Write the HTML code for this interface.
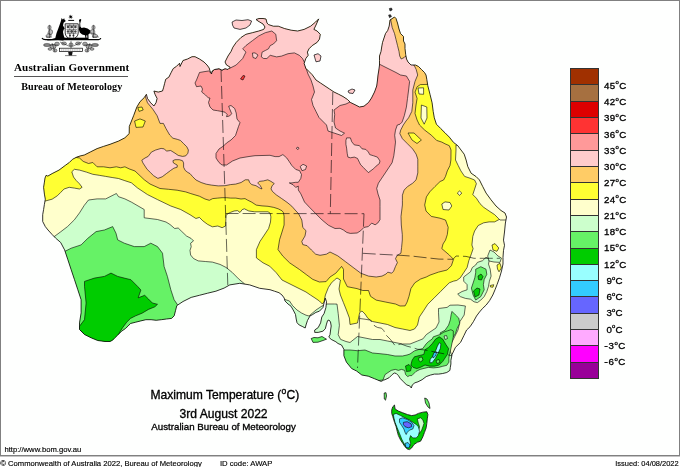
<!DOCTYPE html>
<html><head><meta charset="utf-8"><style>
html,body{margin:0;padding:0;background:#fff;}
#wrap{position:relative;width:680px;height:467px;overflow:hidden;background:#fff;}
.frame{position:absolute;left:0;top:0;width:678px;height:454px;border:1px solid #808080;background:#fefffe;box-shadow:0 1px 0 #c4c4c4;}
</style></head><body><div id="wrap">
<div class="frame"></div>
<svg width="680" height="467" viewBox="0 0 680 467" style="position:absolute;left:0;top:0"><defs><clipPath id="cm"><polygon points="394.5,17.0 396.0,18.5 397.5,23.0 399.0,29.0 400.5,33.5 403.5,36.5 403.5,41.0 405.0,44.0 405.0,48.5 405.7,54.5 406.5,59.0 408.0,62.0 411.0,65.0 415.5,65.0 418.5,66.5 421.5,69.5 424.5,72.5 426.0,75.0 426.8,79.3 427.8,85.7 430.0,94.3 432.1,102.8 433.2,111.4 434.3,117.8 436.4,124.2 440.7,128.5 445.0,132.8 449.3,137.1 453.5,142.4 457.8,145.7 461.0,150.0 464.2,154.2 466.1,160.0 467.8,166.6 471.1,173.2 476.1,176.6 479.4,179.9 482.7,186.5 486.1,193.1 491.0,199.8 496.0,206.0 501.0,210.5 505.0,213.0 506.5,217.0 505.4,223.0 504.5,232.0 503.5,240.1 504.5,245.3 503.5,250.4 503.0,257.3 503.0,264.0 501.5,271.0 499.5,277.8 497.0,284.7 495.0,289.8 492.8,295.0 489.6,300.6 486.2,305.0 482.5,308.5 479.5,312.0 476.5,316.0 473.4,321.7 470.0,326.8 466.6,330.0 464.0,335.4 460.6,342.3 455.4,347.4 452.1,354.4 450.9,360.3 450.9,364.0 450.3,367.4 449.9,370.4 446.8,372.5 442.7,373.5 438.6,374.1 434.4,374.1 430.3,375.1 426.2,376.6 422.1,379.7 418.0,381.8 414.9,382.8 412.3,384.9 411.3,388.0 409.7,385.9 406.6,384.9 403.5,381.8 400.4,378.7 398.4,375.6 396.3,373.5 394.3,373.0 392.2,374.6 389.1,377.7 385.0,379.7 383.7,380.1 381.1,381.4 374.7,378.8 368.3,376.2 361.8,375.0 356.7,371.1 351.6,368.5 346.4,362.1 343.9,355.7 343.9,349.3 341.5,345.0 338.0,343.5 335.9,341.8 331.2,339.4 328.8,337.1 330.0,334.7 330.6,330.0 331.2,326.0 330.5,322.0 329.0,320.0 327.6,320.6 326.5,324.1 325.3,328.8 322.9,331.2 318.2,332.4 314.7,332.4 314.7,330.0 318.2,327.6 320.6,322.9 321.8,317.0 324.1,313.5 325.9,307.6 326.5,301.8 325.3,298.2 324.1,302.9 322.9,307.6 319.4,311.2 315.9,312.4 312.4,314.7 310.0,315.9 307.5,320.4 306.0,325.0 305.2,328.0 302.2,326.4 299.2,325.0 297.0,322.7 296.2,319.0 295.5,314.5 293.2,310.0 291.0,306.2 288.0,304.0 285.0,301.0 284.2,298.0 282.0,295.0 279.0,292.7 274.5,291.2 270.0,289.7 259.7,288.3 249.7,284.9 239.8,283.3 229.8,284.9 224.1,288.1 215.9,291.2 207.6,293.2 199.4,295.3 191.2,297.4 183.0,301.5 176.8,305.6 175.5,310.7 174.2,315.8 171.6,318.4 166.5,319.0 161.3,319.7 156.2,320.3 151.1,319.7 145.9,319.7 140.8,320.9 135.7,322.2 130.5,323.5 128.0,326.1 125.4,328.6 121.6,331.2 117.7,335.1 115.1,337.6 112.6,340.2 110.0,341.5 105.0,341.5 97.7,340.5 91.1,337.8 84.5,334.5 79.5,329.5 79.5,322.9 81.1,312.9 81.1,299.7 77.8,289.7 74.5,279.7 71.2,269.8 67.9,259.8 64.6,249.9 60.7,242.5 55.5,238.0 52.1,234.5 48.0,230.0 45.3,226.6 42.7,221.5 42.7,214.7 43.6,209.5 44.4,204.4 45.3,199.2 44.4,194.1 43.6,187.3 44.4,182.1 45.0,178.0 46.1,175.3 47.8,176.1 52.1,173.6 59.0,170.1 65.8,165.0 69.3,162.5 72.5,159.3 76.8,157.1 80.0,156.0 84.3,155.0 90.7,151.8 97.1,148.6 103.5,146.4 110.0,144.3 118.5,141.1 124.9,137.8 129.2,133.6 129.3,126.4 133.6,115.7 136.8,107.1 140.0,101.7 144.3,97.5 146.4,94.3 147.5,98.5 150.7,102.8 153.9,106.0 156.0,102.8 157.1,98.5 155.0,94.3 153.9,91.0 158.2,92.1 162.5,91.0 163.5,87.8 164.6,83.5 165.7,79.3 168.9,77.1 171.0,72.8 173.2,68.6 176.4,66.4 179.6,63.2 180.0,66.5 183.0,60.5 187.5,59.0 192.0,56.7 195.0,56.7 199.5,59.0 204.0,62.0 207.0,65.0 209.2,68.0 210.0,71.0 211.5,74.0 212.2,71.0 214.5,69.5 219.0,68.7 222.0,70.2 225.0,68.7 228.0,69.5 230.2,67.2 226.5,65.0 225.0,62.0 228.0,56.0 231.0,51.5 232.9,47.2 236.2,42.4 241.0,37.5 245.9,34.3 252.4,32.7 258.8,31.0 263.7,29.4 265.0,27.0 263.0,24.0 258.0,21.0 256.0,19.5 259.0,18.5 263.0,18.5 266.0,19.0 267.0,23.0 268.5,24.6 273.4,26.2 278.3,26.2 284.7,28.6 291.2,30.2 297.7,31.0 304.1,29.4 310.6,26.2 315.5,22.1 318.7,18.9 316.0,25.0 313.9,29.4 317.1,31.0 320.3,34.3 319.5,39.1 317.1,42.4 312.2,45.6 309.0,48.8 307.4,52.1 308.2,55.3 305.8,58.5 304.1,63.4 305.8,68.3 309.0,71.5 312.2,74.7 316.0,80.0 320.5,83.0 325.0,86.0 329.5,89.0 334.0,92.0 338.5,94.2 343.0,96.5 347.5,99.5 350.5,102.5 355.0,104.7 359.5,107.0 364.0,106.2 368.5,102.5 371.5,98.0 374.5,92.0 376.7,86.0 377.5,80.0 378.0,75.0 378.7,71.0 379.5,65.0 379.5,60.5 379.5,56.0 381.0,51.5 381.7,47.0 382.5,42.5 384.0,38.0 385.5,33.5 387.7,30.5 389.2,26.0 390.0,20.0"/></clipPath><clipPath id="ct"><polygon points="391.7,410.0 392.8,406.7 394.5,405.0 395.0,408.9 398.4,411.1 402.8,412.8 407.3,414.5 411.7,415.6 415.1,415.0 418.4,413.4 422.9,412.2 426.8,411.7 427.9,414.5 427.3,418.9 426.8,423.4 426.2,427.8 424.5,432.3 422.9,436.7 420.6,441.2 417.3,442.3 414.0,444.5 411.7,447.9 409.5,449.6 407.3,449.0 405.0,446.8 402.8,443.4 400.6,440.1 398.4,435.6 397.2,431.2 396.1,426.7 394.5,422.3 392.8,416.7 391.7,413.4"/></clipPath></defs><polygon points="394.5,17.0 396.0,18.5 397.5,23.0 399.0,29.0 400.5,33.5 403.5,36.5 403.5,41.0 405.0,44.0 405.0,48.5 405.7,54.5 406.5,59.0 408.0,62.0 411.0,65.0 415.5,65.0 418.5,66.5 421.5,69.5 424.5,72.5 426.0,75.0 426.8,79.3 427.8,85.7 430.0,94.3 432.1,102.8 433.2,111.4 434.3,117.8 436.4,124.2 440.7,128.5 445.0,132.8 449.3,137.1 453.5,142.4 457.8,145.7 461.0,150.0 464.2,154.2 466.1,160.0 467.8,166.6 471.1,173.2 476.1,176.6 479.4,179.9 482.7,186.5 486.1,193.1 491.0,199.8 496.0,206.0 501.0,210.5 505.0,213.0 506.5,217.0 505.4,223.0 504.5,232.0 503.5,240.1 504.5,245.3 503.5,250.4 503.0,257.3 503.0,264.0 501.5,271.0 499.5,277.8 497.0,284.7 495.0,289.8 492.8,295.0 489.6,300.6 486.2,305.0 482.5,308.5 479.5,312.0 476.5,316.0 473.4,321.7 470.0,326.8 466.6,330.0 464.0,335.4 460.6,342.3 455.4,347.4 452.1,354.4 450.9,360.3 450.9,364.0 450.3,367.4 449.9,370.4 446.8,372.5 442.7,373.5 438.6,374.1 434.4,374.1 430.3,375.1 426.2,376.6 422.1,379.7 418.0,381.8 414.9,382.8 412.3,384.9 411.3,388.0 409.7,385.9 406.6,384.9 403.5,381.8 400.4,378.7 398.4,375.6 396.3,373.5 394.3,373.0 392.2,374.6 389.1,377.7 385.0,379.7 383.7,380.1 381.1,381.4 374.7,378.8 368.3,376.2 361.8,375.0 356.7,371.1 351.6,368.5 346.4,362.1 343.9,355.7 343.9,349.3 341.5,345.0 338.0,343.5 335.9,341.8 331.2,339.4 328.8,337.1 330.0,334.7 330.6,330.0 331.2,326.0 330.5,322.0 329.0,320.0 327.6,320.6 326.5,324.1 325.3,328.8 322.9,331.2 318.2,332.4 314.7,332.4 314.7,330.0 318.2,327.6 320.6,322.9 321.8,317.0 324.1,313.5 325.9,307.6 326.5,301.8 325.3,298.2 324.1,302.9 322.9,307.6 319.4,311.2 315.9,312.4 312.4,314.7 310.0,315.9 307.5,320.4 306.0,325.0 305.2,328.0 302.2,326.4 299.2,325.0 297.0,322.7 296.2,319.0 295.5,314.5 293.2,310.0 291.0,306.2 288.0,304.0 285.0,301.0 284.2,298.0 282.0,295.0 279.0,292.7 274.5,291.2 270.0,289.7 259.7,288.3 249.7,284.9 239.8,283.3 229.8,284.9 224.1,288.1 215.9,291.2 207.6,293.2 199.4,295.3 191.2,297.4 183.0,301.5 176.8,305.6 175.5,310.7 174.2,315.8 171.6,318.4 166.5,319.0 161.3,319.7 156.2,320.3 151.1,319.7 145.9,319.7 140.8,320.9 135.7,322.2 130.5,323.5 128.0,326.1 125.4,328.6 121.6,331.2 117.7,335.1 115.1,337.6 112.6,340.2 110.0,341.5 105.0,341.5 97.7,340.5 91.1,337.8 84.5,334.5 79.5,329.5 79.5,322.9 81.1,312.9 81.1,299.7 77.8,289.7 74.5,279.7 71.2,269.8 67.9,259.8 64.6,249.9 60.7,242.5 55.5,238.0 52.1,234.5 48.0,230.0 45.3,226.6 42.7,221.5 42.7,214.7 43.6,209.5 44.4,204.4 45.3,199.2 44.4,194.1 43.6,187.3 44.4,182.1 45.0,178.0 46.1,175.3 47.8,176.1 52.1,173.6 59.0,170.1 65.8,165.0 69.3,162.5 72.5,159.3 76.8,157.1 80.0,156.0 84.3,155.0 90.7,151.8 97.1,148.6 103.5,146.4 110.0,144.3 118.5,141.1 124.9,137.8 129.2,133.6 129.3,126.4 133.6,115.7 136.8,107.1 140.0,101.7 144.3,97.5 146.4,94.3 147.5,98.5 150.7,102.8 153.9,106.0 156.0,102.8 157.1,98.5 155.0,94.3 153.9,91.0 158.2,92.1 162.5,91.0 163.5,87.8 164.6,83.5 165.7,79.3 168.9,77.1 171.0,72.8 173.2,68.6 176.4,66.4 179.6,63.2 180.0,66.5 183.0,60.5 187.5,59.0 192.0,56.7 195.0,56.7 199.5,59.0 204.0,62.0 207.0,65.0 209.2,68.0 210.0,71.0 211.5,74.0 212.2,71.0 214.5,69.5 219.0,68.7 222.0,70.2 225.0,68.7 228.0,69.5 230.2,67.2 226.5,65.0 225.0,62.0 228.0,56.0 231.0,51.5 232.9,47.2 236.2,42.4 241.0,37.5 245.9,34.3 252.4,32.7 258.8,31.0 263.7,29.4 265.0,27.0 263.0,24.0 258.0,21.0 256.0,19.5 259.0,18.5 263.0,18.5 266.0,19.0 267.0,23.0 268.5,24.6 273.4,26.2 278.3,26.2 284.7,28.6 291.2,30.2 297.7,31.0 304.1,29.4 310.6,26.2 315.5,22.1 318.7,18.9 316.0,25.0 313.9,29.4 317.1,31.0 320.3,34.3 319.5,39.1 317.1,42.4 312.2,45.6 309.0,48.8 307.4,52.1 308.2,55.3 305.8,58.5 304.1,63.4 305.8,68.3 309.0,71.5 312.2,74.7 316.0,80.0 320.5,83.0 325.0,86.0 329.5,89.0 334.0,92.0 338.5,94.2 343.0,96.5 347.5,99.5 350.5,102.5 355.0,104.7 359.5,107.0 364.0,106.2 368.5,102.5 371.5,98.0 374.5,92.0 376.7,86.0 377.5,80.0 378.0,75.0 378.7,71.0 379.5,65.0 379.5,60.5 379.5,56.0 381.0,51.5 381.7,47.0 382.5,42.5 384.0,38.0 385.5,33.5 387.7,30.5 389.2,26.0 390.0,20.0" fill="#ffffcc" stroke="none" stroke-width="0.6" /><g clip-path="url(#cm)" stroke="#333" stroke-width="0.6" stroke-linejoin="round"><polygon points="30.0,240.0 53.8,236.9 60.7,231.8 67.5,226.6 74.4,219.8 79.5,212.9 84.3,205.3 88.5,200.0 97.1,198.9 105.7,198.9 114.2,194.6 116.4,193.5 118.5,196.7 124.9,198.9 131.4,202.1 135.0,204.2 144.2,209.5 144.2,217.8 157.5,219.5 166.0,222.0 170.0,224.5 174.7,228.5 178.2,228.0 181.8,231.5 186.5,236.0 191.2,238.5 193.5,240.9 190.6,243.2 191.2,246.8 190.0,250.3 190.6,255.0 193.5,258.5 198.2,260.9 205.3,261.5 212.4,262.1 220.0,264.4 226.2,267.5 232.4,272.6 238.5,278.8 244.7,284.0 250.0,300.0 30.0,360.0" fill="#ccffcc" stroke="#000" stroke-width="0.6" /><polygon points="60.0,251.5 64.6,251.5 71.2,248.2 81.1,244.9 87.8,238.3 96.1,231.6 104.4,230.0 112.7,226.6 116.0,233.3 117.7,239.9 124.3,243.2 134.3,246.6 144.2,246.6 150.8,243.2 157.5,246.6 162.5,253.2 164.1,266.5 167.4,276.4 170.8,289.7 174.1,299.7 177.4,304.6 180.0,320.0 60.0,360.0" fill="#66f266" stroke="#000" stroke-width="0.6" /><polygon points="84.5,281.4 94.4,278.1 104.4,276.4 111.0,273.1 117.7,276.4 124.3,278.1 130.9,279.7 137.6,286.4 140.9,290.0 138.2,297.8 144.7,295.3 148.5,299.1 152.4,303.0 157.5,304.3 154.9,306.8 148.5,309.4 142.1,313.2 135.7,315.8 130.5,318.4 126.7,322.2 122.8,327.4 120.3,331.2 117.7,336.3 115.1,340.2 108.0,344.0 97.7,344.0 87.8,337.8 79.5,329.5 79.5,326.2 84.5,319.6 86.1,303.0 84.5,286.4" fill="#00cc00" stroke="#000" stroke-width="0.6" /><polygon points="280.0,303.0 285.0,299.5 289.5,301.0 292.5,305.5 297.0,310.0 301.5,313.0 306.0,315.2 309.0,316.0 316.0,310.0 322.0,306.0 327.0,304.0 334.4,304.0 337.0,304.1 338.2,313.5 339.4,325.3 338.2,334.7 340.6,339.4 346.0,341.5 350.0,342.5 357.5,336.5 365.0,338.0 372.5,339.5 380.0,339.5 387.5,341.0 395.0,342.5 402.5,344.0 410.0,344.0 417.5,341.0 422.9,338.9 426.3,334.6 430.0,332.0 436.0,328.0 439.0,322.0 438.5,312.8 438.5,308.5 447.1,307.4 450.0,305.2 458.0,305.0 465.4,306.0 464.2,315.0 460.0,321.4 458.0,330.0 455.0,336.0 452.0,342.0 449.0,348.0 452.0,356.0 470.0,360.0 470.0,420.0 280.0,420.0" fill="#ccffcc" stroke="#000" stroke-width="0.6" /><polygon points="452.0,311.4 455.4,314.8 458.8,318.2 459.7,323.4 457.1,328.5 455.4,333.7 452.0,338.8 446.8,341.0 441.7,337.0 440.0,333.0 445.1,330.2 448.6,325.1 450.3,319.9 451.1,314.8" fill="#66f266" stroke="#000" stroke-width="0.6" /><polygon points="343.3,350.0 350.0,350.0 357.5,350.7 365.0,350.0 372.5,353.0 380.0,353.7 387.5,354.5 395.0,356.0 402.5,356.0 407.0,355.0 410.0,354.0 414.4,350.9 418.0,349.7 422.7,348.6 426.2,343.8 428.6,341.5 432.1,339.1 433.3,336.8 436.8,335.6 440.3,334.4 443.9,332.1 447.4,330.9 450.9,329.7 453.3,330.9 453.3,336.8 452.1,342.7 450.9,348.6 449.4,355.0 448.9,358.1 448.9,362.2 446.8,365.3 442.7,366.3 438.6,367.4 433.4,367.9 428.3,367.4 424.1,368.4 420.0,369.4 415.9,371.5 411.8,375.6 409.7,375.6 407.7,376.6 405.6,374.6 404.6,370.4 401.5,369.4 398.4,370.4 395.3,369.4 391.2,370.4 388.1,372.5 385.0,374.6 383.0,380.0 340.0,385.0" fill="#66f266" stroke="#000" stroke-width="0.6" /><polygon points="412.1,360.3 414.4,356.8 419.1,355.6 423.8,354.4 425.0,349.7 428.6,347.4 432.1,343.8 435.6,339.1 439.2,336.8 442.7,339.1 446.2,345.0 448.6,348.6 447.4,354.4 445.0,358.0 442.7,361.5 439.2,365.0 434.4,366.2 429.7,366.2 425.0,365.0 420.3,367.4 416.8,368.6 413.2,367.4 410.9,365.0" fill="#00cc00" stroke="#000" stroke-width="0.6" /><polygon points="405.5,366.0 409.0,364.5 411.5,367.0 410.5,371.0 406.5,371.5" fill="#00cc00" stroke="#000" stroke-width="0.6" /><polygon points="419.0,357.5 422.0,357.0 423.0,360.0 420.5,362.0 418.5,360.0" fill="#66f266" stroke="#000" stroke-width="0.6" /><polygon points="436.0,360.5 439.0,359.5 440.0,362.5 437.0,363.5" fill="#66f266" stroke="#000" stroke-width="0.6" /><polygon points="444.0,336.0 446.5,335.5 447.5,338.5 445.0,339.5" fill="#ccffcc" stroke="#000" stroke-width="0.6" /><polygon points="439.2,342.7 440.9,343.8 440.3,348.6 438.0,353.3 435.6,358.0 432.1,362.7 429.7,362.7 430.3,359.2 433.3,355.6 435.6,350.9 437.4,346.2" fill="#99ffff" stroke="#000" stroke-width="0.6" /><polygon points="434.0,352.5 436.8,352.0 435.5,356.0 433.0,358.0 432.7,356.0" fill="#33ccff" stroke="#000" stroke-width="0.6" /><polygon points="477.4,262.4 482.5,260.7 486.0,257.3 489.4,259.0 488.5,264.1 490.2,269.2 491.1,276.1 489.4,281.2 488.5,286.4 486.8,291.5 484.2,296.6 480.8,300.1 477.4,302.6 474.0,301.8 470.5,299.2 465.4,298.4 460.3,296.6 457.7,294.1 462.0,291.5 467.1,289.8 467.1,284.7 463.7,281.2 463.7,277.0 467.1,274.4 470.5,271.8 472.3,267.5 475.7,265.0" fill="#ccffcc" stroke="#000" stroke-width="0.6" /><polygon points="487.7,256.0 490.0,250.0 494.0,252.0 498.0,256.0 501.4,258.0 500.0,262.4 494.0,262.0 489.0,261.0" fill="#ccffcc" stroke="#000" stroke-width="0.6" /><polygon points="475.7,269.2 480.8,266.7 486.0,269.2 486.8,274.4 484.2,279.5 483.4,284.7 484.2,289.8 480.8,296.6 475.7,300.1 473.1,295.0 471.4,288.1 473.1,283.0 474.8,277.8 475.7,272.7" fill="#66f266" stroke="#000" stroke-width="0.6" /><polygon points="478.0,276.0 481.0,274.0 483.0,276.5 481.5,280.0 478.5,279.5" fill="#00cc00" stroke="#000" stroke-width="0.6" /><polygon points="473.5,291.0 477.0,288.0 480.0,289.0 479.0,295.0 475.0,297.0" fill="#00cc00" stroke="#000" stroke-width="0.6" /><polygon points="492.0,245.0 495.0,243.6 498.8,248.0 497.0,251.3 493.0,250.0" fill="#ffff33" stroke="#000" stroke-width="0.6" /><polygon points="497.0,265.0 500.0,263.3 501.4,268.0 499.0,271.8 497.5,269.0" fill="#ffff33" stroke="#000" stroke-width="0.6" /><polygon points="490.2,285.5 493.7,284.7 493.0,287.2 490.5,287.0" fill="#ffff33" stroke="#000" stroke-width="0.6" /><polygon points="30.0,150.0 30.0,201.0 45.3,201.0 52.1,199.2 57.3,195.8 60.7,192.4 64.1,189.0 69.2,187.3 74.4,188.1 79.5,189.0 82.1,187.3 79.5,183.8 76.1,180.4 73.5,177.0 71.8,171.8 74.4,169.3 79.5,170.1 86.4,172.1 92.8,174.3 99.2,175.3 105.7,176.4 112.1,177.5 118.5,178.5 124.9,180.7 131.4,182.8 137.6,188.0 147.5,194.6 157.5,199.6 170.8,206.0 180.7,209.5 190.0,214.7 195.9,218.5 199.4,217.4 202.9,220.9 207.6,224.4 212.4,226.8 217.8,226.0 222.1,227.7 225.6,226.0 226.0,215.7 227.3,214.0 230.7,212.3 234.1,211.0 237.5,210.6 240.0,212.5 242.2,209.6 244.4,208.8 248.8,211.0 254.7,211.8 262.0,211.8 268.0,211.8 270.1,213.2 270.9,216.9 270.5,222.0 268.6,228.5 264.3,235.0 260.0,241.4 256.4,249.6 256.4,257.9 263.0,262.8 269.7,266.2 276.3,272.8 282.0,280.0 288.0,283.0 294.0,286.0 300.0,289.0 306.0,292.0 310.4,295.0 315.0,298.0 319.4,301.0 322.4,304.0 324.0,302.0 325.4,295.0 328.4,287.5 331.4,283.0 334.4,280.0 337.0,278.0 340.4,280.0 339.0,289.0 340.4,295.0 343.4,302.5 346.4,310.0 349.4,318.0 350.0,324.5 357.5,323.0 359.7,312.5 362.0,311.0 365.0,314.0 368.0,318.5 372.5,321.5 380.0,323.0 387.5,324.5 395.0,327.5 402.5,329.0 410.0,330.5 414.5,329.0 417.5,325.0 419.3,317.1 423.6,310.7 427.8,304.2 434.3,297.8 440.7,291.4 449.3,282.8 453.4,281.2 456.8,280.4 460.3,277.8 463.7,272.7 467.1,267.5 468.8,260.7 471.4,253.8 473.1,248.7 471.9,245.0 472.8,236.4 474.6,231.0 478.2,225.5 483.7,222.8 489.1,221.9 494.6,221.9 498.2,220.0 520.0,210.0 520.0,0.0 30.0,0.0" fill="#ffff33" stroke="#000" stroke-width="0.6" /><polygon points="456.0,150.0 455.5,160.0 458.2,165.5 460.9,170.9 464.6,176.4 470.0,178.2 474.6,180.0 476.4,183.7 474.6,189.1 472.8,194.6 476.4,198.2 480.0,203.7 483.7,207.3 489.1,211.0 494.6,214.6 498.2,218.2 500.0,220.0 515.0,220.0 515.0,145.0 456.0,145.0" fill="#ffffcc" stroke="#000" stroke-width="0.6" /><polygon points="30.0,0.0 30.0,150.0 79.5,158.0 83.2,161.4 88.5,163.5 92.8,162.5 97.1,166.8 103.5,166.8 110.0,167.8 116.4,166.8 120.7,167.8 124.9,166.8 129.2,168.9 135.0,171.0 144.2,179.7 150.0,184.0 160.0,188.5 168.6,189.3 177.1,190.2 185.7,191.9 190.8,193.6 199.4,196.2 205.0,199.0 209.3,200.3 212.7,198.6 217.8,198.1 222.1,197.7 226.4,197.7 230.7,198.1 235.8,198.1 241.0,199.0 245.0,198.6 247.4,200.0 251.8,202.2 256.2,205.1 262.0,205.9 268.0,206.3 273.8,207.4 278.2,208.8 281.9,210.7 283.4,212.5 284.1,216.2 284.1,225.0 282.0,232.0 279.6,239.6 278.0,249.6 282.9,256.2 289.6,262.8 299.5,269.5 306.2,274.5 312.8,279.4 319.4,282.0 326.1,281.6 330.0,277.0 335.8,273.2 341.6,266.4 343.5,269.3 343.5,279.0 347.3,286.7 357.0,288.6 362.8,290.5 368.5,290.5 370.5,296.3 376.2,300.1 385.9,302.1 395.5,304.0 400.0,306.0 405.1,305.9 407.1,302.1 409.0,296.3 410.9,288.6 414.8,282.8 420.6,279.0 426.3,277.0 430.0,275.1 438.5,272.1 447.1,270.0 451.4,265.7 453.5,259.3 449.3,255.0 441.8,248.6 443.0,244.0 445.5,240.1 447.3,234.6 448.2,227.3 445.5,220.0 440.0,218.2 431.3,216.4 426.0,211.0 424.7,205.0 426.4,196.9 429.8,191.8 434.9,186.6 440.1,181.5 443.6,180.0 445.5,176.4 447.3,170.9 450.0,165.5 450.9,160.0 451.0,150.0 449.3,145.7 445.0,143.8 441.8,142.1 436.6,140.4 431.5,135.3 424.7,130.1 419.5,125.0 417.1,120.0 415.0,113.5 416.0,105.0 417.1,98.5 415.0,92.1 417.1,86.8 420.3,84.6 440.0,84.0 440.0,0.0" fill="#ffcc66" stroke="#000" stroke-width="0.6" /><polygon points="421.4,105.0 426.8,107.0 427.0,118.0 424.2,124.2 421.0,118.0" fill="#ffffcc" stroke="#000" stroke-width="0.6" /><polygon points="418.0,88.0 423.6,87.8 423.6,94.3 419.0,94.0" fill="#ffffcc" stroke="#000" stroke-width="0.6" /><polygon points="441.8,204.0 445.0,201.9 450.0,202.5 451.8,206.0 449.0,210.0 443.0,209.5" fill="#ffffcc" stroke="#000" stroke-width="0.6" /><polygon points="457.3,193.0 459.5,191.0 461.8,193.0 459.5,195.5" fill="#ffffcc" stroke="#000" stroke-width="0.6" /><polygon points="408.0,133.0 414.0,133.0 421.4,140.0 417.0,143.5 412.0,140.0" fill="#ffff33" stroke="#000" stroke-width="0.6" /><polygon points="137.8,107.5 142.0,107.0 143.2,110.0 139.0,111.4" fill="#ffff33" stroke="#000" stroke-width="0.6" /><polygon points="134.6,121.0 140.0,118.9 145.3,121.0 143.0,127.0 136.0,127.4" fill="#ffff33" stroke="#000" stroke-width="0.6" /><polygon points="130.0,0.0 140.0,90.0 145.3,96.4 147.5,102.8 152.8,109.2 157.1,115.7 160.0,123.4 163.4,123.4 166.0,128.6 169.7,135.0 172.9,138.2 177.2,139.3 180.4,140.4 183.6,143.6 186.8,146.8 188.4,150.0 187.9,153.2 185.7,155.9 182.5,156.4 178.2,155.4 175.0,153.2 170.7,150.5 166.4,151.1 164.3,148.9 161.1,148.4 155.7,150.0 151.4,152.1 148.2,156.4 145.0,158.0 141.8,160.2 142.9,162.9 145.0,166.1 147.1,169.3 150.4,172.5 153.6,175.7 157.9,178.4 162.2,176.8 166.4,173.6 170.7,170.4 173.9,168.2 177.2,167.2 177.2,165.0 175.0,163.9 173.4,162.9 172.9,160.7 175.0,159.7 179.3,159.7 182.5,160.7 183.6,162.9 183.6,167.2 185.2,170.4 187.9,172.5 190.0,173.6 192.5,176.5 196.0,180.0 201.1,182.5 206.2,184.2 211.4,185.1 218.2,185.9 225.0,185.7 230.4,184.6 235.7,184.1 241.1,182.5 245.3,179.8 248.6,179.8 249.6,182.5 251.8,184.6 256.0,185.7 260.3,188.4 262.0,188.9 260.3,185.7 257.7,183.0 259.3,181.4 263.5,180.9 267.8,179.8 271.0,181.4 274.3,183.6 272.1,185.7 271.0,188.9 272.5,191.5 276.2,194.8 281.6,198.5 287.0,202.3 291.8,206.2 296.0,211.0 298.5,213.6 301.8,220.0 302.8,227.5 306.0,230.7 305.0,236.0 301.8,241.4 302.8,244.6 307.1,245.7 311.4,250.0 315.7,254.2 320.0,255.3 326.4,254.2 330.0,252.0 337.7,255.8 345.4,261.6 353.1,267.4 360.8,273.2 368.5,276.1 376.2,277.0 382.0,276.1 385.9,274.1 387.8,272.2 391.7,273.2 393.6,271.2 395.5,266.4 397.4,262.6 395.5,258.7 397.2,255.4 400.9,253.2 401.6,247.4 402.3,240.0 402.3,234.6 401.3,225.0 401.0,216.4 402.4,205.0 402.4,200.3 402.4,195.2 404.1,190.1 407.5,186.6 412.7,183.2 416.1,179.8 417.8,172.9 417.8,166.1 417.8,159.2 416.1,154.1 412.7,149.0 407.5,143.8 402.4,138.7 399.8,133.6 400.7,130.1 403.3,125.0 406.0,121.0 408.6,117.8 411.8,111.4 412.8,102.8 412.8,90.0 415.0,81.4 417.7,75.0 416.2,69.5 414.0,65.0 411.0,64.0 408.0,60.0 405.7,56.0 404.2,57.5 401.2,59.0 399.7,56.0 399.0,51.5 397.5,45.5 396.0,39.5 394.5,33.5 392.2,27.5 390.7,20.0 392.0,10.0 392.0,0.0" fill="#ffcccc" stroke="#000" stroke-width="0.6" /><polygon points="199.5,72.5 204.0,71.7 208.5,71.0 211.0,73.0 214.5,69.5 219.0,68.7 222.0,70.2 225.0,68.7 229.7,68.3 236.2,65.0 242.7,58.5 245.9,52.1 242.7,48.8 245.9,45.6 252.4,40.7 258.8,35.9 265.3,32.7 271.8,31.0 275.8,34.3 276.6,40.7 273.4,44.0 270.2,45.6 268.5,48.8 265.3,50.5 262.1,52.1 261.3,56.9 263.7,58.5 266.9,58.5 270.2,55.3 276.6,56.9 281.5,56.1 288.0,53.7 294.4,52.9 299.3,55.3 302.5,58.5 305.0,63.4 306.0,68.0 308.0,74.0 311.0,80.0 313.0,86.0 314.5,92.0 311.5,99.5 313.0,105.5 316.0,111.5 319.0,117.5 323.5,122.0 326.5,125.0 328.0,131.0 332.5,132.5 337.0,134.0 341.5,135.5 344.5,133.2 340.0,131.0 335.5,128.0 334.0,122.0 334.7,114.5 334.0,110.0 340.0,105.5 346.0,104.0 349.0,102.5 355.0,100.0 370.0,90.0 376.0,70.0 379.5,64.2 384.0,66.5 390.0,69.5 396.0,72.5 400.5,75.0 406.4,76.0 409.6,81.4 408.6,90.0 407.5,98.5 406.4,107.1 404.3,115.7 402.1,122.1 400.0,124.2 397.3,125.0 395.5,130.1 394.7,135.3 395.5,142.1 394.7,149.0 393.8,155.8 392.1,162.7 388.7,167.8 385.3,172.9 381.8,178.1 378.4,183.2 376.7,188.4 378.0,194.0 380.0,200.0 380.0,206.4 380.0,219.7 377.7,223.1 375.1,224.8 371.7,223.1 368.3,226.6 364.0,227.4 360.6,230.8 357.1,233.0 350.3,233.4 346.9,232.5 343.4,230.0 340.0,228.3 335.0,228.5 328.5,225.3 322.1,220.0 315.7,213.6 309.3,207.1 304.5,202.0 300.8,193.8 298.3,190.0 298.3,186.1 295.7,187.4 293.1,184.8 289.3,182.9 291.9,182.9 295.7,182.3 298.3,182.3 300.8,178.4 301.5,174.6 299.6,170.7 295.7,169.4 291.9,165.6 289.3,161.7 286.7,157.9 282.9,154.6 279.0,156.6 275.1,156.6 270.0,155.3 255.0,155.7 249.0,156.5 240.0,158.0 232.5,161.0 226.5,165.0 222.0,165.0 219.0,162.5 216.0,158.0 216.0,153.5 219.0,149.0 223.5,146.0 226.5,143.0 231.0,140.0 235.5,135.5 237.0,131.0 238.5,126.5 240.0,122.7 237.0,119.0 236.2,113.0 234.7,108.5 231.0,105.5 228.7,106.2 229.5,108.5 231.7,113.7 229.5,116.0 226.5,116.7 227.2,114.5 225.0,112.2 222.0,111.5 217.5,110.7 213.0,110.0 210.0,107.0 208.5,102.5 210.0,98.0 208.5,98.0 205.5,95.0 201.7,92.0 202.5,89.0 201.0,86.0 196.5,86.7 195.0,83.0 196.5,80.0" fill="#ff9999" stroke="#000" stroke-width="0.6" /><polygon points="346.6,137.9 350.4,137.9 351.7,141.7 354.3,144.9 359.4,145.6 362.0,148.8 365.8,149.4 368.4,152.0 369.7,154.6 373.6,155.8 377.4,157.1 380.0,161.0 379.3,163.6 376.1,166.1 373.6,168.7 371.0,170.6 368.4,172.6 365.8,170.0 363.3,167.4 360.7,164.8 359.4,162.3 357.5,158.4 354.3,157.1 350.4,157.8 347.9,157.1 347.2,153.3 346.6,148.1 345.9,144.3 345.9,140.4" fill="#ffcccc" stroke="#000" stroke-width="0.6" /><polygon points="252.4,53.0 255.0,52.9 258.0,55.0 256.0,58.5 253.0,57.5" fill="#ffcccc" stroke="#000" stroke-width="0.6" /><polygon points="300.2,166.5 303.0,164.3 306.6,166.0 305.5,169.5 302.0,170.7" fill="#ffcccc" stroke="#000" stroke-width="0.6" /><polygon points="296.3,148.0 298.0,147.0 299.0,148.5 297.5,149.5" fill="#ffcccc" stroke="#000" stroke-width="0.6" /><polygon points="240.5,79.0 243.0,75.5 245.0,76.0 243.0,80.0" fill="#ff3333" stroke="#000" stroke-width="0.6" /></g><polyline points="221.0,69.0 225.6,213.5 227.8,285.0" fill="none" stroke="#000" stroke-width="0.6" stroke-dasharray="13,4" clip-path="url(#cm)"/><polyline points="225.6,213.5 364.0,213.7" fill="none" stroke="#000" stroke-width="0.6" stroke-dasharray="13,4" clip-path="url(#cm)"/><polyline points="332.8,92.0 330.3,213.5" fill="none" stroke="#000" stroke-width="0.6" stroke-dasharray="13,4" clip-path="url(#cm)"/><polyline points="364.0,213.7 357.5,368.0" fill="none" stroke="#000" stroke-width="0.6" stroke-dasharray="13,4" clip-path="url(#cm)"/><polyline points="362.7,253.3 380.0,254.3 402.0,255.4 413.0,256.2 425.0,257.6 439.0,259.1 453.0,259.3 456.0,256.0 466.0,256.4 474.0,258.3 500.0,258.3" fill="none" stroke="#000" stroke-width="0.6" stroke-dasharray="13,4" clip-path="url(#cm)"/><polyline points="359.6,318.5 365.0,319.2 369.5,320.0 372.5,322.2 374.7,326.0 377.7,327.5 381.5,328.2 383.7,330.5 386.0,335.0 390.5,339.5 395.0,345.5 401.0,344.0 407.0,346.2 413.0,347.7 417.5,349.2 425.0,350.0 435.0,352.0 445.0,354.0 452.0,356.0" fill="none" stroke="#000" stroke-width="0.6" stroke-dasharray="13,4" clip-path="url(#cm)"/><polygon points="394.5,17.0 396.0,18.5 397.5,23.0 399.0,29.0 400.5,33.5 403.5,36.5 403.5,41.0 405.0,44.0 405.0,48.5 405.7,54.5 406.5,59.0 408.0,62.0 411.0,65.0 415.5,65.0 418.5,66.5 421.5,69.5 424.5,72.5 426.0,75.0 426.8,79.3 427.8,85.7 430.0,94.3 432.1,102.8 433.2,111.4 434.3,117.8 436.4,124.2 440.7,128.5 445.0,132.8 449.3,137.1 453.5,142.4 457.8,145.7 461.0,150.0 464.2,154.2 466.1,160.0 467.8,166.6 471.1,173.2 476.1,176.6 479.4,179.9 482.7,186.5 486.1,193.1 491.0,199.8 496.0,206.0 501.0,210.5 505.0,213.0 506.5,217.0 505.4,223.0 504.5,232.0 503.5,240.1 504.5,245.3 503.5,250.4 503.0,257.3 503.0,264.0 501.5,271.0 499.5,277.8 497.0,284.7 495.0,289.8 492.8,295.0 489.6,300.6 486.2,305.0 482.5,308.5 479.5,312.0 476.5,316.0 473.4,321.7 470.0,326.8 466.6,330.0 464.0,335.4 460.6,342.3 455.4,347.4 452.1,354.4 450.9,360.3 450.9,364.0 450.3,367.4 449.9,370.4 446.8,372.5 442.7,373.5 438.6,374.1 434.4,374.1 430.3,375.1 426.2,376.6 422.1,379.7 418.0,381.8 414.9,382.8 412.3,384.9 411.3,388.0 409.7,385.9 406.6,384.9 403.5,381.8 400.4,378.7 398.4,375.6 396.3,373.5 394.3,373.0 392.2,374.6 389.1,377.7 385.0,379.7 383.7,380.1 381.1,381.4 374.7,378.8 368.3,376.2 361.8,375.0 356.7,371.1 351.6,368.5 346.4,362.1 343.9,355.7 343.9,349.3 341.5,345.0 338.0,343.5 335.9,341.8 331.2,339.4 328.8,337.1 330.0,334.7 330.6,330.0 331.2,326.0 330.5,322.0 329.0,320.0 327.6,320.6 326.5,324.1 325.3,328.8 322.9,331.2 318.2,332.4 314.7,332.4 314.7,330.0 318.2,327.6 320.6,322.9 321.8,317.0 324.1,313.5 325.9,307.6 326.5,301.8 325.3,298.2 324.1,302.9 322.9,307.6 319.4,311.2 315.9,312.4 312.4,314.7 310.0,315.9 307.5,320.4 306.0,325.0 305.2,328.0 302.2,326.4 299.2,325.0 297.0,322.7 296.2,319.0 295.5,314.5 293.2,310.0 291.0,306.2 288.0,304.0 285.0,301.0 284.2,298.0 282.0,295.0 279.0,292.7 274.5,291.2 270.0,289.7 259.7,288.3 249.7,284.9 239.8,283.3 229.8,284.9 224.1,288.1 215.9,291.2 207.6,293.2 199.4,295.3 191.2,297.4 183.0,301.5 176.8,305.6 175.5,310.7 174.2,315.8 171.6,318.4 166.5,319.0 161.3,319.7 156.2,320.3 151.1,319.7 145.9,319.7 140.8,320.9 135.7,322.2 130.5,323.5 128.0,326.1 125.4,328.6 121.6,331.2 117.7,335.1 115.1,337.6 112.6,340.2 110.0,341.5 105.0,341.5 97.7,340.5 91.1,337.8 84.5,334.5 79.5,329.5 79.5,322.9 81.1,312.9 81.1,299.7 77.8,289.7 74.5,279.7 71.2,269.8 67.9,259.8 64.6,249.9 60.7,242.5 55.5,238.0 52.1,234.5 48.0,230.0 45.3,226.6 42.7,221.5 42.7,214.7 43.6,209.5 44.4,204.4 45.3,199.2 44.4,194.1 43.6,187.3 44.4,182.1 45.0,178.0 46.1,175.3 47.8,176.1 52.1,173.6 59.0,170.1 65.8,165.0 69.3,162.5 72.5,159.3 76.8,157.1 80.0,156.0 84.3,155.0 90.7,151.8 97.1,148.6 103.5,146.4 110.0,144.3 118.5,141.1 124.9,137.8 129.2,133.6 129.3,126.4 133.6,115.7 136.8,107.1 140.0,101.7 144.3,97.5 146.4,94.3 147.5,98.5 150.7,102.8 153.9,106.0 156.0,102.8 157.1,98.5 155.0,94.3 153.9,91.0 158.2,92.1 162.5,91.0 163.5,87.8 164.6,83.5 165.7,79.3 168.9,77.1 171.0,72.8 173.2,68.6 176.4,66.4 179.6,63.2 180.0,66.5 183.0,60.5 187.5,59.0 192.0,56.7 195.0,56.7 199.5,59.0 204.0,62.0 207.0,65.0 209.2,68.0 210.0,71.0 211.5,74.0 212.2,71.0 214.5,69.5 219.0,68.7 222.0,70.2 225.0,68.7 228.0,69.5 230.2,67.2 226.5,65.0 225.0,62.0 228.0,56.0 231.0,51.5 232.9,47.2 236.2,42.4 241.0,37.5 245.9,34.3 252.4,32.7 258.8,31.0 263.7,29.4 265.0,27.0 263.0,24.0 258.0,21.0 256.0,19.5 259.0,18.5 263.0,18.5 266.0,19.0 267.0,23.0 268.5,24.6 273.4,26.2 278.3,26.2 284.7,28.6 291.2,30.2 297.7,31.0 304.1,29.4 310.6,26.2 315.5,22.1 318.7,18.9 316.0,25.0 313.9,29.4 317.1,31.0 320.3,34.3 319.5,39.1 317.1,42.4 312.2,45.6 309.0,48.8 307.4,52.1 308.2,55.3 305.8,58.5 304.1,63.4 305.8,68.3 309.0,71.5 312.2,74.7 316.0,80.0 320.5,83.0 325.0,86.0 329.5,89.0 334.0,92.0 338.5,94.2 343.0,96.5 347.5,99.5 350.5,102.5 355.0,104.7 359.5,107.0 364.0,106.2 368.5,102.5 371.5,98.0 374.5,92.0 376.7,86.0 377.5,80.0 378.0,75.0 378.7,71.0 379.5,65.0 379.5,60.5 379.5,56.0 381.0,51.5 381.7,47.0 382.5,42.5 384.0,38.0 385.5,33.5 387.7,30.5 389.2,26.0 390.0,20.0" fill="none" stroke="#000" stroke-width="0.8" /><polygon points="232.1,22.0 236.0,20.0 242.0,20.5 248.0,19.7 251.6,21.0 250.0,25.0 246.0,28.0 240.0,29.4 234.0,28.0 232.5,25.0" fill="#ffcccc" stroke="#000" stroke-width="0.7" /><polygon points="389.3,8.5 391.5,8.0 392.2,10.0 390.0,11.0" fill="#333" stroke="#000" stroke-width="0.5" /><polygon points="388.6,15.0 390.5,14.7 391.5,16.5 389.5,17.7" fill="#333" stroke="#000" stroke-width="0.5" /><polygon points="314.0,55.0 318.0,53.7 321.0,56.0 320.0,61.0 316.0,61.8" fill="#ffcccc" stroke="#000" stroke-width="0.7" /><polygon points="348.0,91.0 352.0,89.0 355.0,90.0 353.0,93.5 349.0,93.0" fill="#ffcccc" stroke="#000" stroke-width="0.7" /><polygon points="311.2,338.5 314.0,337.5 318.0,337.8 322.0,336.5 324.5,338.0 326.5,339.2 323.0,340.5 318.0,342.2 313.0,342.4" fill="#66f266" stroke="#000" stroke-width="0.7" /><polygon points="384.2,393.0 386.0,392.7 386.5,396.0 385.5,400.2 384.3,399.0" fill="#66f266" stroke="#000" stroke-width="0.7" /><polygon points="424.7,398.0 427.0,399.0 429.0,403.0 430.0,408.5 428.0,407.0 425.5,403.0" fill="#66f266" stroke="#000" stroke-width="0.7" /><g clip-path="url(#ct)" stroke="#333" stroke-width="0.6"><polygon points="391.7,410.0 392.8,406.7 394.5,405.0 395.0,408.9 398.4,411.1 402.8,412.8 407.3,414.5 411.7,415.6 415.1,415.0 418.4,413.4 422.9,412.2 426.8,411.7 427.9,414.5 427.3,418.9 426.8,423.4 426.2,427.8 424.5,432.3 422.9,436.7 420.6,441.2 417.3,442.3 414.0,444.5 411.7,447.9 409.5,449.6 407.3,449.0 405.0,446.8 402.8,443.4 400.6,440.1 398.4,435.6 397.2,431.2 396.1,426.7 394.5,422.3 392.8,416.7 391.7,413.4" fill="#00cc00" stroke="none" stroke-width="0.6" /><polygon points="417.3,418.9 420.6,417.8 422.9,420.0 424.0,423.4 422.9,426.7 421.7,430.1 419.5,433.4 418.4,431.2 419.5,426.7 418.4,423.4" fill="#ccffcc" stroke="#000" stroke-width="0.6" /><polygon points="393.4,414.5 396.1,413.4 400.6,415.6 405.0,417.8 409.5,420.0 412.8,422.3 416.2,424.5 418.4,426.7 419.5,431.2 418.4,435.6 416.2,437.9 412.8,437.9 410.6,435.6 409.5,439.0 410.6,443.4 409.5,446.8 406.2,446.8 403.9,443.4 401.7,439.0 399.5,433.4 397.2,427.8 395.0,422.3 393.9,417.8" fill="#99ffff" stroke="#000" stroke-width="0.6" /><polygon points="399.5,418.9 402.8,417.8 407.3,419.5 411.7,422.3 414.0,425.6 412.8,429.0 409.5,430.1 407.3,432.3 406.2,434.5 405.0,432.3 403.9,429.0 401.7,425.6 399.5,422.3" fill="#33ccff" stroke="#000" stroke-width="0.6" /><polygon points="405.0,443.4 408.0,442.5 410.0,445.0 409.0,447.9 406.0,447.5" fill="#33ccff" stroke="#000" stroke-width="0.6" /><polygon points="403.4,422.3 407.3,421.7 411.2,423.9 411.7,426.7 408.4,427.8 405.0,426.7 403.4,424.5" fill="#6666ff" stroke="#000" stroke-width="0.6" /></g><polygon points="391.7,410.0 392.8,406.7 394.5,405.0 395.0,408.9 398.4,411.1 402.8,412.8 407.3,414.5 411.7,415.6 415.1,415.0 418.4,413.4 422.9,412.2 426.8,411.7 427.9,414.5 427.3,418.9 426.8,423.4 426.2,427.8 424.5,432.3 422.9,436.7 420.6,441.2 417.3,442.3 414.0,444.5 411.7,447.9 409.5,449.6 407.3,449.0 405.0,446.8 402.8,443.4 400.6,440.1 398.4,435.6 397.2,431.2 396.1,426.7 394.5,422.3 392.8,416.7 391.7,413.4" fill="none" stroke="#000" stroke-width="0.8" /><rect x="570.5" y="68.5" width="28" height="16" fill="#a03000" stroke="#333" stroke-width="1"/><rect x="570.5" y="84.5" width="28" height="17" fill="#a67040" stroke="#333" stroke-width="1"/><rect x="570.5" y="101.5" width="28" height="16" fill="#dd0000" stroke="#333" stroke-width="1"/><rect x="570.5" y="117.5" width="28" height="16" fill="#ff3333" stroke="#333" stroke-width="1"/><rect x="570.5" y="133.5" width="28" height="17" fill="#ff9999" stroke="#333" stroke-width="1"/><rect x="570.5" y="150.5" width="28" height="16" fill="#ffcccc" stroke="#333" stroke-width="1"/><rect x="570.5" y="166.5" width="28" height="16" fill="#ffcc66" stroke="#333" stroke-width="1"/><rect x="570.5" y="182.5" width="28" height="17" fill="#ffff33" stroke="#333" stroke-width="1"/><rect x="570.5" y="199.5" width="28" height="16" fill="#ffffcc" stroke="#333" stroke-width="1"/><rect x="570.5" y="215.5" width="28" height="16" fill="#ccffcc" stroke="#333" stroke-width="1"/><rect x="570.5" y="231.5" width="28" height="17" fill="#66f266" stroke="#333" stroke-width="1"/><rect x="570.5" y="248.5" width="28" height="16" fill="#00cc00" stroke="#333" stroke-width="1"/><rect x="570.5" y="264.5" width="28" height="16" fill="#99ffff" stroke="#333" stroke-width="1"/><rect x="570.5" y="280.5" width="28" height="16" fill="#33ccff" stroke="#333" stroke-width="1"/><rect x="570.5" y="296.5" width="28" height="17" fill="#6666ff" stroke="#333" stroke-width="1"/><rect x="570.5" y="313.5" width="28" height="16" fill="#cccccc" stroke="#333" stroke-width="1"/><rect x="570.5" y="329.5" width="28" height="16" fill="#ffaaff" stroke="#333" stroke-width="1"/><rect x="570.5" y="345.5" width="28" height="17" fill="#ff00ff" stroke="#333" stroke-width="1"/><rect x="570.5" y="362.5" width="28" height="16" fill="#990099" stroke="#333" stroke-width="1"/><text x="604" y="88.7" font-family="Liberation Sans, Arial, sans-serif" fill="#000" stroke="#000" stroke-width="0.32" font-size="9.7" letter-spacing="0.25">45<tspan font-size="5.9" dy="-4.3" dx="0.3">o</tspan><tspan dy="4.3" dx="0.2">C</tspan></text><text x="604" y="105.0" font-family="Liberation Sans, Arial, sans-serif" fill="#000" stroke="#000" stroke-width="0.32" font-size="9.7" letter-spacing="0.25">42<tspan font-size="5.9" dy="-4.3" dx="0.3">o</tspan><tspan dy="4.3" dx="0.2">C</tspan></text><text x="604" y="121.2" font-family="Liberation Sans, Arial, sans-serif" fill="#000" stroke="#000" stroke-width="0.32" font-size="9.7" letter-spacing="0.25">39<tspan font-size="5.9" dy="-4.3" dx="0.3">o</tspan><tspan dy="4.3" dx="0.2">C</tspan></text><text x="604" y="137.5" font-family="Liberation Sans, Arial, sans-serif" fill="#000" stroke="#000" stroke-width="0.32" font-size="9.7" letter-spacing="0.25">36<tspan font-size="5.9" dy="-4.3" dx="0.3">o</tspan><tspan dy="4.3" dx="0.2">C</tspan></text><text x="604" y="153.7" font-family="Liberation Sans, Arial, sans-serif" fill="#000" stroke="#000" stroke-width="0.32" font-size="9.7" letter-spacing="0.25">33<tspan font-size="5.9" dy="-4.3" dx="0.3">o</tspan><tspan dy="4.3" dx="0.2">C</tspan></text><text x="604" y="170.0" font-family="Liberation Sans, Arial, sans-serif" fill="#000" stroke="#000" stroke-width="0.32" font-size="9.7" letter-spacing="0.25">30<tspan font-size="5.9" dy="-4.3" dx="0.3">o</tspan><tspan dy="4.3" dx="0.2">C</tspan></text><text x="604" y="186.3" font-family="Liberation Sans, Arial, sans-serif" fill="#000" stroke="#000" stroke-width="0.32" font-size="9.7" letter-spacing="0.25">27<tspan font-size="5.9" dy="-4.3" dx="0.3">o</tspan><tspan dy="4.3" dx="0.2">C</tspan></text><text x="604" y="202.5" font-family="Liberation Sans, Arial, sans-serif" fill="#000" stroke="#000" stroke-width="0.32" font-size="9.7" letter-spacing="0.25">24<tspan font-size="5.9" dy="-4.3" dx="0.3">o</tspan><tspan dy="4.3" dx="0.2">C</tspan></text><text x="604" y="218.8" font-family="Liberation Sans, Arial, sans-serif" fill="#000" stroke="#000" stroke-width="0.32" font-size="9.7" letter-spacing="0.25">21<tspan font-size="5.9" dy="-4.3" dx="0.3">o</tspan><tspan dy="4.3" dx="0.2">C</tspan></text><text x="604" y="235.0" font-family="Liberation Sans, Arial, sans-serif" fill="#000" stroke="#000" stroke-width="0.32" font-size="9.7" letter-spacing="0.25">18<tspan font-size="5.9" dy="-4.3" dx="0.3">o</tspan><tspan dy="4.3" dx="0.2">C</tspan></text><text x="604" y="251.3" font-family="Liberation Sans, Arial, sans-serif" fill="#000" stroke="#000" stroke-width="0.32" font-size="9.7" letter-spacing="0.25">15<tspan font-size="5.9" dy="-4.3" dx="0.3">o</tspan><tspan dy="4.3" dx="0.2">C</tspan></text><text x="604" y="267.6" font-family="Liberation Sans, Arial, sans-serif" fill="#000" stroke="#000" stroke-width="0.32" font-size="9.7" letter-spacing="0.25">12<tspan font-size="5.9" dy="-4.3" dx="0.3">o</tspan><tspan dy="4.3" dx="0.2">C</tspan></text><text x="606.6" y="283.8" font-family="Liberation Sans, Arial, sans-serif" fill="#000" stroke="#000" stroke-width="0.32" font-size="9.7" letter-spacing="0">9<tspan font-size="5.9" dy="-4.3" dx="0">o</tspan><tspan dy="4.3" dx="0.2">C</tspan></text><text x="606.6" y="300.1" font-family="Liberation Sans, Arial, sans-serif" fill="#000" stroke="#000" stroke-width="0.32" font-size="9.7" letter-spacing="0">6<tspan font-size="5.9" dy="-4.3" dx="0">o</tspan><tspan dy="4.3" dx="0.2">C</tspan></text><text x="606.6" y="316.3" font-family="Liberation Sans, Arial, sans-serif" fill="#000" stroke="#000" stroke-width="0.32" font-size="9.7" letter-spacing="0">3<tspan font-size="5.9" dy="-4.3" dx="0">o</tspan><tspan dy="4.3" dx="0.2">C</tspan></text><text x="606.6" y="332.6" font-family="Liberation Sans, Arial, sans-serif" fill="#000" stroke="#000" stroke-width="0.32" font-size="9.7" letter-spacing="0">0<tspan font-size="5.9" dy="-4.3" dx="0">o</tspan><tspan dy="4.3" dx="0.2">C</tspan></text><text x="604.3" y="348.9" font-family="Liberation Sans, Arial, sans-serif" fill="#000" stroke="#000" stroke-width="0.32" font-size="9.7" letter-spacing="0.25"><tspan font-size="11">-</tspan><tspan dx="0.3">3</tspan><tspan font-size="5.9" dy="-4.3" dx="0.3">o</tspan><tspan dy="4.3" dx="0.2">C</tspan></text><text x="604.3" y="365.1" font-family="Liberation Sans, Arial, sans-serif" fill="#000" stroke="#000" stroke-width="0.32" font-size="9.7" letter-spacing="0.25"><tspan font-size="11">-</tspan><tspan dx="0.3">6</tspan><tspan font-size="5.9" dy="-4.3" dx="0.3">o</tspan><tspan dy="4.3" dx="0.2">C</tspan></text><text x="150.5" y="398.9" font-family="Liberation Sans, Arial, sans-serif" fill="#000" stroke="#000" stroke-width="0.32" font-size="12.1">Maximum Temperature (<tspan font-size="8.6" dy="-4.6" dx="0.2">o</tspan><tspan dy="4.6" dx="0.1">C)</tspan></text><text x="179.5" y="417.5" font-family="Liberation Sans, Arial, sans-serif" fill="#000" stroke="#000" stroke-width="0.32" font-size="12.1">3rd August 2022</text><text x="151.3" y="430.4" font-family="Liberation Sans, Arial, sans-serif" fill="#000" stroke="#000" stroke-width="0.32" font-size="9.9" textLength="144.5" lengthAdjust="spacingAndGlyphs">Australian Bureau of Meteorology</text><text x="4.4" y="451.8" font-family="Liberation Sans, Arial, sans-serif" fill="#000" stroke="#000" stroke-width="0.15" font-size="8.1" textLength="77" lengthAdjust="spacingAndGlyphs">http://www.bom.gov.au</text><text x="0.3" y="465.6" font-family="Liberation Sans, Arial, sans-serif" fill="#000" stroke="#000" stroke-width="0.15" font-size="8.1" textLength="201.5" lengthAdjust="spacingAndGlyphs">© Commonwealth of Australia 2022, Bureau of Meteorology</text><text x="219.9" y="465.6" font-family="Liberation Sans, Arial, sans-serif" fill="#000" stroke="#000" stroke-width="0.15" font-size="8.1" textLength="52.5" lengthAdjust="spacingAndGlyphs">ID code: AWAP</text><text x="615.3" y="465.6" font-family="Liberation Sans, Arial, sans-serif" fill="#000" stroke="#000" stroke-width="0.15" font-size="8.1" textLength="63.3" lengthAdjust="spacingAndGlyphs">Issued: 04/08/2022</text><text x="14" y="70.6" font-family="Liberation Serif, Times New Roman, serif" font-weight="bold" fill="#000" font-size="11.1" textLength="115.3" lengthAdjust="spacing">Australian Government</text><rect x="14" y="76" width="114" height="1" fill="#555"/><text x="21.2" y="89.8" font-family="Liberation Serif, Times New Roman, serif" font-weight="bold" fill="#000" font-size="10.1" textLength="101" lengthAdjust="spacing">Bureau of Meteorology</text><g id="emblem"><polygon points="70.70,14.40 71.13,15.90 72.58,15.30 71.67,16.58 73.04,17.33 71.48,17.42 71.74,18.96 70.70,17.80 69.66,18.96 69.92,17.42 68.36,17.33 69.73,16.58 68.82,15.30 70.27,15.90" fill="#000"/><rect x="68.3" y="19.9" width="5.8" height="1.1" fill="#222"/><path d="M61.6,18 L62.8,19.6 L64.2,18.2 L64.6,19.8 L65.9,20.9 L64.8,21.8 L63.6,22.7 L63,25.6 L64.7,28.6 L63.6,29.7 L63,32.1 L63.6,35 L64.4,37.5 L65.6,39.3 L63,40.4 L58,40.1 L52,40.2 L46,40.6 L51,39.3 L55.3,38 L56.5,33.3 L58.3,28.6 L60,23.8 L60.9,20.9 Z" fill="#000"/><path d="M79.3,19.5 L80.6,18.9 L81.3,19.8 L80.8,21.2 L80.2,23.5 L80.4,26.5 L81.5,28 L84,27.6 L87.5,28.4 L90,30.3 L91.2,32.2 L89.6,33.4 L88.4,34.6 L88.6,39.6 L87.6,39.6 L87.2,35.2 L86.2,35.4 L86.6,39.6 L85.6,39.6 L85,35.2 L82.2,34.4 L79.8,32.4 L78.8,29.5 L79.3,26 L79.5,22.5 L79,20.6 Z" fill="#000"/><path d="M65.2,23.8 L78.2,23.8 L78.2,33 Q78,37.6 71.7,39.6 Q65.4,37.6 65.2,33 Z" fill="#fff" stroke="#000" stroke-width="0.8"/><g fill="#444"><circle cx="68" cy="27" r="1.3"/><circle cx="71.7" cy="27" r="1.3"/><circle cx="75.4" cy="27" r="1.3"/><circle cx="68" cy="31.5" r="1.2"/><circle cx="71.7" cy="31.5" r="1.4"/><circle cx="75.4" cy="31.5" r="1.2"/><circle cx="70" cy="35.5" r="1"/><circle cx="73.4" cy="35.5" r="1"/></g><path d="M66.5,25.4 H77 M66.5,29.4 H77 M66.8,33.6 H76.6 M69.8,24.2 V38 M73.6,24.2 V38" stroke="#000" stroke-width="0.45" fill="none"/><g fill="#bbb" stroke="#333" stroke-width="0.5"><ellipse cx="49.5" cy="27.5" rx="1.6" ry="2.2"/><ellipse cx="50.5" cy="32" rx="2.2" ry="2.4"/><ellipse cx="48.5" cy="36" rx="2.6" ry="1.6"/><ellipse cx="93.5" cy="27.5" rx="1.6" ry="2.2"/><ellipse cx="92.5" cy="32" rx="2.4" ry="2.4"/><ellipse cx="95" cy="36" rx="2.8" ry="1.6"/></g><path d="M49.5,25 V38 M47,33 L52,35 M46,37 L52,37 M93.5,25 V38 M91,33 L96,34 M92,37 L99,37" stroke="#222" stroke-width="0.5" fill="none"/><path d="M42,38 Q43,39.8 46,39.6 H98 Q100.5,39.8 100.8,38" stroke="#000" stroke-width="1.2" fill="none"/><path d="M56,38.5 H88" stroke="#000" stroke-width="1.6"/><g fill="#aaa" stroke="#222" stroke-width="0.5"><ellipse cx="47" cy="45" rx="3.5" ry="1.6"/><ellipse cx="53" cy="46.5" rx="3" ry="2.2"/><ellipse cx="57" cy="44" rx="2.4" ry="1.8"/><ellipse cx="55" cy="50.5" rx="2" ry="1.6"/><ellipse cx="50" cy="49" rx="2" ry="1.3"/><ellipse cx="95" cy="45" rx="3.5" ry="1.6"/><ellipse cx="89" cy="46.5" rx="3" ry="2.2"/><ellipse cx="85" cy="44" rx="2.4" ry="1.8"/><ellipse cx="87" cy="50.5" rx="2" ry="1.6"/><ellipse cx="92" cy="49" rx="2" ry="1.3"/><ellipse cx="64" cy="43.5" rx="2.5" ry="1.5"/><ellipse cx="78" cy="43.5" rx="2.5" ry="1.5"/><ellipse cx="71" cy="44.5" rx="2" ry="1.6"/></g><path d="M44,45 L58,45 M84,45 L98,45 M52,43 L55,52 M90,43 L87,52 M60,42 L71,47 L82,42 M71,41 V49" stroke="#111" stroke-width="0.5" fill="none"/><rect x="59.5" y="48.2" width="23" height="3.4" fill="#fff" stroke="#000" stroke-width="0.7"/><path d="M61,50 H81" stroke="#888" stroke-width="0.8" stroke-dasharray="1.2,0.6"/><path d="M68.2,52 H72.6 L72,55.4 H68.8 Z" fill="#111"/><path d="M65,55.6 H76.5" stroke="#333" stroke-width="0.6"/></g></svg>
</div></body></html>
